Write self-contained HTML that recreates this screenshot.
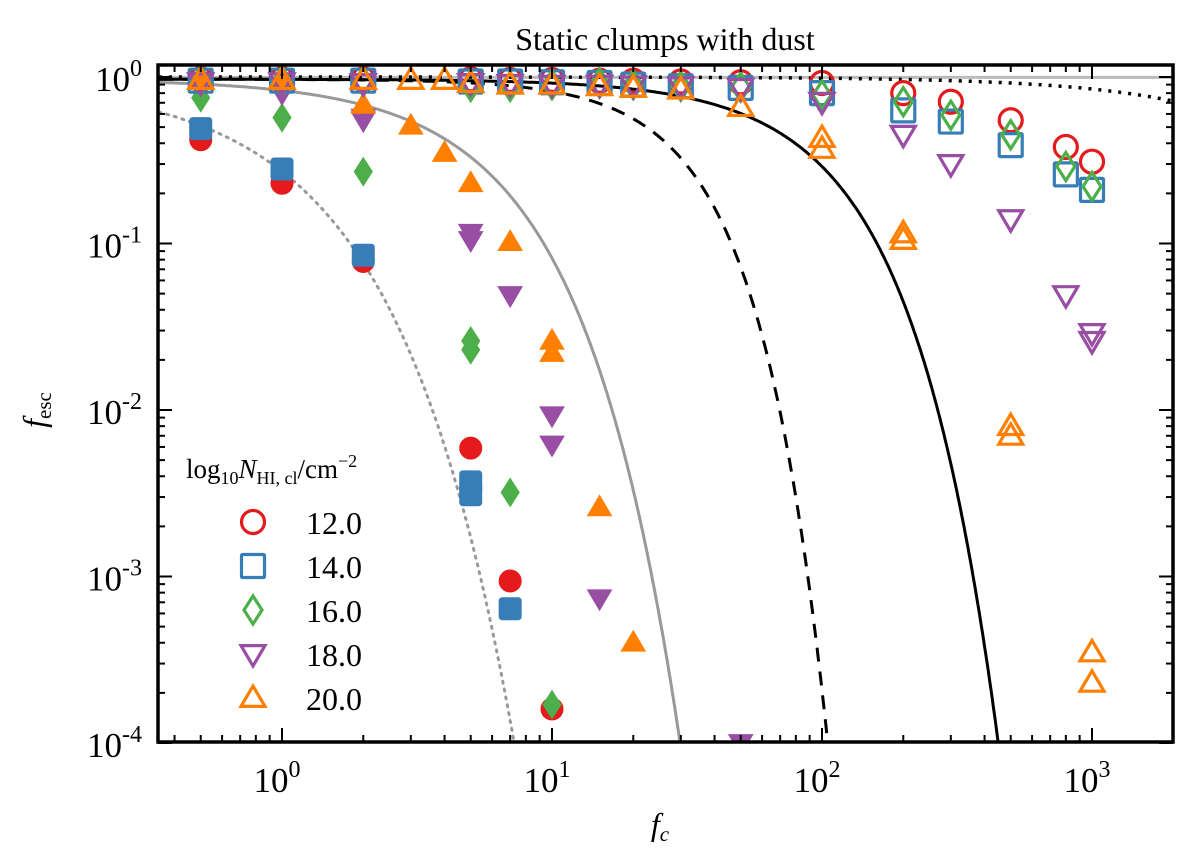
<!DOCTYPE html>
<html><head><meta charset="utf-8">
<style>
html,body{margin:0;padding:0;background:#fff;}
svg{display:block;font-family:"Liberation Serif","DejaVu Serif",serif;}
</style></head>
<body>
<svg id="chart" width="1200" height="865" viewBox="0 0 1200 865" xmlns="http://www.w3.org/2000/svg">
<text x="665" y="50" font-size="32" text-anchor="middle">Static clumps with dust</text>
<g id="curves"></g>
<g id="marks"></g>
<g id="axes"></g>
<g id="legend"></g>
<text x="660" y="835" font-size="32" font-style="italic" text-anchor="middle">f<tspan font-size="21" dy="6">c</tspan></text>
<text transform="translate(45,410) rotate(-90)" font-size="32" font-style="italic" text-anchor="middle">f<tspan font-size="21" dy="6" font-style="normal">esc</tspan></text>
</svg>
<script>
// ---- data ----
const xTickValues = [1, 10, 100, 1000];
const xTickLabels = ["0", "1", "2", "3"];
const yTickValues = [1, 0.1, 0.01, 0.001, 0.0001];
const yTickLabels = ["0", "-1", "-2", "-3", "-4"];

const redFilledX = [0.5, 1, 2, 5, 7, 10];
const redFilledY = [0.42, 0.23, 0.078, 0.0059, 0.00094, 0.00016];
const blueFilledX = [0.5, 1, 2, 5, 5, 7];
const blueFilledY = [0.49, 0.28, 0.085, 0.0037, 0.0031, 0.00064];
const greenFilledX = [0.5, 1, 2, 5, 5, 7, 10];
const greenFilledY = [0.75, 0.57, 0.27, 0.026, 0.023, 0.0032, 0.00017];
const purpleFilledX = [0.5, 1, 2, 2, 5, 5, 7, 10, 10, 15, 50];
const purpleFilledY = [0.95, 0.8, 0.57, 0.55, 0.116, 0.105, 0.049, 0.0093, 0.0062, 0.00074, 0.0001];
const orangeFilledX = [0.5, 1, 2, 3, 4, 5, 7, 10, 10, 15, 20];
const orangeFilledY = [0.96, 0.92, 0.68, 0.51, 0.35, 0.23, 0.102, 0.026, 0.022, 0.0026, 0.0004];

const redOpenX = [0.5, 1, 2, 5, 7, 10, 15, 20, 30, 50, 100, 200, 300, 500, 800, 1000];
const redOpenY = [0.97, 0.97, 0.97, 0.97, 0.96, 0.96, 0.95, 0.95, 0.94, 0.93, 0.92, 0.8, 0.71, 0.55, 0.38, 0.31];
const blueOpenX = [0.5, 1, 2, 5, 7, 10, 15, 20, 30, 50, 100, 200, 300, 500, 800, 1000];
const blueOpenY = [0.95, 0.95, 0.95, 0.94, 0.94, 0.93, 0.92, 0.9, 0.88, 0.86, 0.8, 0.63, 0.54, 0.39, 0.26, 0.21];
const greenOpenX = [0.5, 1, 2, 5, 7, 10, 15, 20, 30, 50, 100, 200, 300, 500, 800, 1000];
const greenOpenY = [0.95, 0.95, 0.94, 0.88, 0.88, 0.9, 0.92, 0.9, 0.88, 0.87, 0.78, 0.71, 0.59, 0.45, 0.29, 0.22];
const purpleOpenX = [0.5, 1, 2, 5, 7, 10, 15, 20, 30, 50, 100, 200, 300, 500, 800, 1000, 1000];
const purpleOpenY = [0.93, 0.93, 0.92, 0.92, 0.91, 0.9, 0.9, 0.89, 0.88, 0.86, 0.71, 0.45, 0.3, 0.14, 0.049, 0.029, 0.026];
const orangeOpenX = [0.5, 1, 2, 3, 4, 5, 7, 10, 15, 20, 30, 50, 100, 100, 200, 200, 500, 500, 1000, 1000];
const orangeOpenY = [0.96, 0.96, 0.96, 0.96, 0.96, 0.92, 0.9, 0.9, 0.88, 0.86, 0.84, 0.66, 0.43, 0.37, 0.115, 0.105, 0.008, 0.007, 0.00035, 0.00023];

const legendLabels = ["12.0", "14.0", "16.0", "18.0", "20.0"];

// ---- scales ----
const X0 = 158, X1 = 1173, Y0 = 65, Y1 = 742;
const xScale = v => 282 + 270 * Math.log10(v);
const yScale = v => 77 - 166.5 * Math.log10(v);
const NS = "http://www.w3.org/2000/svg";
function mk(tag, attrs, parent) {
  const e = document.createElementNS(NS, tag);
  for (const k in attrs) e.setAttribute(k, attrs[k]);
  parent.appendChild(e);
  return e;
}
const colors = {red:"#e41a1c", blue:"#377eb8", green:"#4daf4a", purple:"#984ea3", orange:"#ff7f00"};

const defs = mk("defs", {}, document.getElementById("chart"));
const cp = mk("clipPath", {id:"plotclip"}, defs);
mk("rect", {x:X0, y:Y0, width:X1-X0, height:Y1-Y0}, cp);

// ---- curves (model: A*exp(-(fc/f0)^b)) ----
const curvesG = document.getElementById("curves");
const curveDefs = [
  {name:"grey-dotted-curve", A:0.96, f0:0.79, b:1.0, stroke:"#999", dash:"2,6", w:3, cap:"round"},
  {name:"grey-solid-curve", A:0.97, f0:4.7, b:1.2, stroke:"#999", dash:"", w:3, cap:"butt"},
  {name:"black-dashed-curve", A:0.97, f0:28.5, b:1.7, stroke:"#000", dash:"14,10", w:3, cap:"butt"},
  {name:"black-solid-curve", A:0.97, f0:87, b:1.35, stroke:"#000", dash:"", w:3, cap:"butt"},
  {name:"black-dotted-curve", A:1.0, f0:6000, b:1.0, stroke:"#000", dash:"3,7", w:3.5, cap:"butt"}
];
const unity = mk("line", {x1:X0, y1:yScale(0.995), x2:X1, y2:yScale(0.995), stroke:"#bbb", "stroke-width":3}, curvesG);


curveDefs.forEach(c => {
  let d = "";
  for (let i = 0; i <= 800; i++) {
    const lx = Math.log10(0.35) + i * (Math.log10(2000) - Math.log10(0.35)) / 800;
    const f = Math.pow(10, lx);
    const v = c.A * Math.exp(-Math.pow(f / c.f0, c.b));
    if (v < 8e-5) { d += (d ? "L" : "M") + xScale(f).toFixed(1) + "," + yScale(8e-5).toFixed(1); break; }
    d += (d ? "L" : "M") + xScale(f).toFixed(1) + "," + yScale(v).toFixed(1);
  }
  const p = mk("path", {d:d, fill:"none", stroke:c.stroke, "stroke-width":c.w, "stroke-dasharray":c.dash, "stroke-linecap":c.cap, "clip-path":"url(#plotclip)"}, curvesG);
  
  
});

// ---- markers ----
function marker(shape, cx, cy, color, filled, parent, s) {
  s = s || 1;
  const st = filled ? {fill:color, stroke:color, "stroke-width":1} : {fill:"none", stroke:color, "stroke-width":3.2};
  let e;
  if (shape === "circle") e = mk("circle", Object.assign({cx:cx, cy:cy, r:(filled?11:11.5)*s}, st), parent);
  else if (shape === "square") { const h = (filled?11:11.5)*s; e = mk("rect", Object.assign({x:cx-h, y:cy-h, width:2*h, height:2*h, rx: filled?3:1}, st), parent); }
  else if (shape === "diamond") { const w=9*s, h=14*s; e = mk("polygon", Object.assign({points:`${cx},${cy-h} ${cx+w},${cy} ${cx},${cy+h} ${cx-w},${cy}`}, st), parent); }
  else if (shape === "down") { const w=12*s, h=12*s; e = mk("polygon", Object.assign({points:`${cx-w},${cy-h*0.7} ${cx+w},${cy-h*0.7} ${cx},${cy+h}`}, st), parent); }
  else { const w=12*s, h=12*s; e = mk("polygon", Object.assign({points:`${cx-w},${cy+h*0.7} ${cx+w},${cy+h*0.7} ${cx},${cy-h}`}, st), parent); }
  return e;
}
const marksG = document.getElementById("marks");
const mclip = mk("g", {"clip-path":"url(#plotclip)"}, marksG);
const seriesList = [
  {name:"red-filled", xs:redFilledX, ys:redFilledY, shape:"circle", c:colors.red, f:true},
  {name:"blue-filled", xs:blueFilledX, ys:blueFilledY, shape:"square", c:colors.blue, f:true},
  {name:"green-filled", xs:greenFilledX, ys:greenFilledY, shape:"diamond", c:colors.green, f:true},
  {name:"purple-filled", xs:purpleFilledX, ys:purpleFilledY, shape:"down", c:colors.purple, f:true},
  {name:"orange-filled", xs:orangeFilledX, ys:orangeFilledY, shape:"up", c:colors.orange, f:true},
  {name:"red-open", xs:redOpenX, ys:redOpenY, shape:"circle", c:colors.red, f:false},
  {name:"blue-open", xs:blueOpenX, ys:blueOpenY, shape:"square", c:colors.blue, f:false},
  {name:"green-open", xs:greenOpenX, ys:greenOpenY, shape:"diamond", c:colors.green, f:false},
  {name:"purple-open", xs:purpleOpenX, ys:purpleOpenY, shape:"down", c:colors.purple, f:false},
  {name:"orange-open", xs:orangeOpenX, ys:orangeOpenY, shape:"up", c:colors.orange, f:false}
];
seriesList.forEach(s => {
  const g = mk("g", {}, mclip);
  
  
  s.xs.forEach((xv, i) => {
    const m = marker(s.shape, xScale(xv), yScale(s.ys[i]), s.c, s.f, g);
    
    
  });
});

// ---- axes ----
const axesG = document.getElementById("axes");
const frame = mk("rect", {x:X0, y:Y0, width:X1-X0, height:Y1-Y0, fill:"none", stroke:"#000", "stroke-width":3.5}, axesG);


for (let e = -1; e <= 3; e++) {
  for (let m = 1; m <= 9; m++) {
    const v = m * Math.pow(10, e);
    const x = xScale(v);
    if (x < X0 + 2 || x > X1 - 2) continue;
    const len = m === 1 ? 14 : 7;
    mk("line", {x1:x, y1:Y1, x2:x, y2:Y1-len, stroke:"#000", "stroke-width":2}, axesG);
    mk("line", {x1:x, y1:Y0, x2:x, y2:Y0+len, stroke:"#000", "stroke-width":2}, axesG);
  }
}
xTickValues.forEach((v, i) => {
  const t = mk("text", {x:xScale(v) - 5, y:Y1 + 50, "font-size":35, "text-anchor":"middle"}, axesG);
  t.textContent = "10";
  const sp = mk("tspan", {dy:-15, "font-size":24}, t);
  sp.textContent = xTickLabels[i];
  
  
});
for (let e = -4; e <= 0; e++) {
  for (let m = 1; m <= 9; m++) {
    const v = m * Math.pow(10, e);
    const y = yScale(v);
    if (y < Y0 + 2 || y > Y1 + 1) continue;
    const len = m === 1 ? 14 : 7;
    mk("line", {x1:X0, y1:y, x2:X0+len, y2:y, stroke:"#000", "stroke-width":2}, axesG);
    mk("line", {x1:X1, y1:y, x2:X1-len, y2:y, stroke:"#000", "stroke-width":2}, axesG);
  }
}
yTickValues.forEach((v, i) => {
  const t = mk("text", {x:X0 - 16, y:yScale(v) + 14, "font-size":35, "text-anchor":"end"}, axesG);
  t.textContent = "10";
  const sp = mk("tspan", {dy:-15, "font-size":24}, t);
  sp.textContent = yTickLabels[i];
  
  
});

// ---- legend ----
const legG = document.getElementById("legend");
const lt = mk("text", {x:186, y:478, "font-size":27}, legG);
lt.textContent = "log";
mk("tspan", {"font-size":18, dy:6}, lt).textContent = "10";
mk("tspan", {"font-style":"italic", dy:-6}, lt).textContent = "N";
mk("tspan", {"font-size":18, dy:6}, lt).textContent = "HI, cl";
mk("tspan", {dy:-6}, lt).textContent = "/cm";
mk("tspan", {"font-size":18, dy:-11}, lt).textContent = "−2";


const legShapes = ["circle", "square", "diamond", "down", "up"];
const legColors = [colors.red, colors.blue, colors.green, colors.purple, colors.orange];
legendLabels.forEach((lab, i) => {
  const g = mk("g", {}, legG);
  
  
  const y = 522 + i * 44;
  marker(legShapes[i], 253, y, legColors[i], false, g);
  const t = mk("text", {x:306, y:y + 12, "font-size":32}, g);
  t.textContent = lab;
});
</script>
</body></html>
